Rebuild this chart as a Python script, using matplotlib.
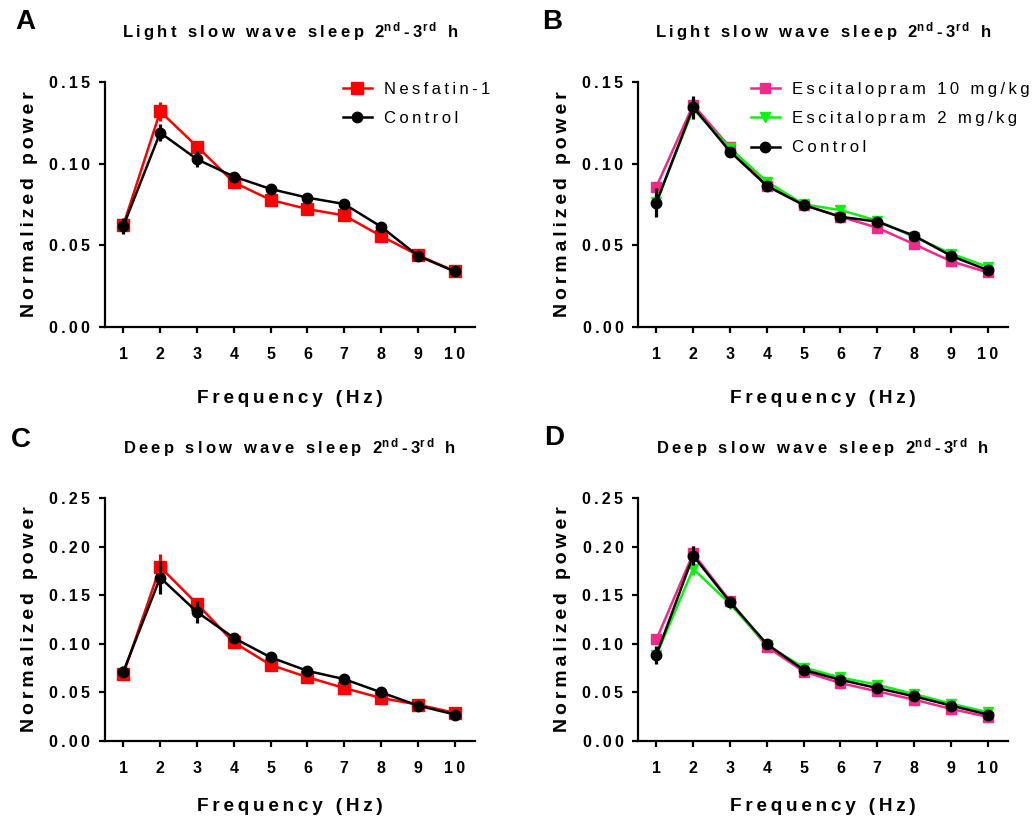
import numpy as np
import matplotlib
matplotlib.use('Agg')
import matplotlib.pyplot as plt

plt.rcParams['font.family'] = ['Liberation Sans', 'DejaVu Sans']
plt.rcParams['mathtext.default'] = 'regular'

freq = [1, 2, 3, 4, 5, 6, 7, 8, 9, 10]

# light slow wave sleep, nesfatin-1 experiment
a_nesf = [0.0624, 0.132, 0.1105, 0.0886, 0.0778, 0.0722, 0.0683, 0.0557, 0.0440, 0.0342]
a_nesf_err = [0.003, 0.006, 0.002, 0.002, 0.002, 0.002, 0.002, 0.002, 0.001, 0.001]
a_ctrl = [0.0618, 0.119, 0.1027, 0.0921, 0.0845, 0.0792, 0.0753, 0.0614, 0.0436, 0.0340]
a_ctrl_err = [0.005, 0.005, 0.005, 0.002, 0.002, 0.002, 0.002, 0.002, 0.002, 0.001]

# light slow wave sleep, escitalopram experiment
b_esc10 = [0.0859, 0.136, 0.1100, 0.0864, 0.0747, 0.0675, 0.0608, 0.0507, 0.0403, 0.0334]
b_esc10_err = [0.003, 0.004, 0.002, 0.002, 0.001, 0.001, 0.002, 0.002, 0.002, 0.001]
b_esc2 = [0.0767, 0.1334, 0.1095, 0.0890, 0.0751, 0.0716, 0.0651, 0.0552, 0.0450, 0.0368]
b_esc2_err = [0.003, 0.004, 0.002, 0.002, 0.002, 0.002, 0.002, 0.001, 0.002, 0.002]
b_ctrl = [0.0761, 0.1346, 0.1074, 0.0864, 0.0747, 0.0675, 0.0645, 0.0559, 0.0436, 0.0348]
b_ctrl_err = [0.009, 0.007, 0.003, 0.002, 0.002, 0.002, 0.002, 0.002, 0.002, 0.002]

# deep slow wave sleep, nesfatin-1 experiment
c_nesf = [0.0687, 0.179, 0.141, 0.1014, 0.0782, 0.0656, 0.0544, 0.0442, 0.0374, 0.0289]
c_nesf_err = [0.006, 0.013, 0.005, 0.003, 0.003, 0.003, 0.003, 0.002, 0.002, 0.002]
c_ctrl = [0.0714, 0.168, 0.1327, 0.1060, 0.0860, 0.0721, 0.0636, 0.0500, 0.0364, 0.0272]
c_ctrl_err = [0.006, 0.017, 0.011, 0.003, 0.003, 0.003, 0.003, 0.002, 0.002, 0.002]

# deep slow wave sleep, escitalopram experiment
d_esc10 = [0.1044, 0.1929, 0.1439, 0.0970, 0.0714, 0.0595, 0.0510, 0.0425, 0.0330, 0.0248]
d_esc10_err = [0.004, 0.008, 0.003, 0.002, 0.002, 0.002, 0.002, 0.002, 0.002, 0.002]
d_esc2 = [0.0884, 0.177, 0.141, 0.0986, 0.0755, 0.0653, 0.0578, 0.0483, 0.0384, 0.0296]
d_esc2_err = [0.008, 0.006, 0.003, 0.002, 0.002, 0.002, 0.002, 0.002, 0.002, 0.002]
d_ctrl = [0.0884, 0.1905, 0.1429, 0.0997, 0.0731, 0.0629, 0.0544, 0.0459, 0.0364, 0.0272]
d_ctrl_err = [0.009, 0.010, 0.003, 0.002, 0.002, 0.002, 0.002, 0.002, 0.002, 0.002]

light_ticks = [0.00, 0.05, 0.10, 0.15]
deep_ticks = [0.00, 0.05, 0.10, 0.15, 0.20, 0.25]

RED = '#FF0000'
PINK = '#F2288A'
GREEN = '#11EE11'

THIN = '\u2009'


def spaced(s):
    # tracked lettering: a thin space between every character
    return THIN.join(s)


def title_text(kind):
    return (spaced(kind + ' slow wave sleep 2') + r'$^{n\,d}$' + THIN + '-' + THIN + '3'
            + r'$^{r\,d}$' + THIN + ' ' + THIN + 'h')


def draw_panel(ax, series, yticks, title, leg_x=None, xpad=20):
    z = 2
    for y, err, color, marker, ms, label in series:
        ax.errorbar(freq, y, yerr=err, fmt='none', ecolor=color, elinewidth=2.3,
                    capsize=0, zorder=z)
        ax.plot(freq, y, color=color, marker=marker, markersize=ms, linewidth=1.8,
                label=spaced(label), zorder=z + 0.5)
        z += 1
    ax.set_xlim(0.5, 10.55)
    ax.set_ylim(0, yticks[-1])
    ax.set_xticks(freq)
    ax.set_xticklabels([spaced(str(f)) for f in freq])
    ax.set_yticks(yticks)
    ax.set_yticklabels([spaced('%.2f' % t) for t in yticks])
    for side in ['top', 'right']:
        ax.spines[side].set_visible(False)
    for side in ['left', 'bottom']:
        ax.spines[side].set_linewidth(1.6)
    ax.tick_params(axis='both', direction='out', length=4.5, width=1.6,
                   labelsize=11.5)
    ax.tick_params(axis='x', pad=10)
    ax.tick_params(axis='y', pad=6)
    for lab in ax.get_xticklabels() + ax.get_yticklabels():
        lab.set_fontweight('bold')
    ax.set_xlabel(spaced('Frequency (Hz)'), fontsize=13.7, fontweight='bold', labelpad=xpad)
    ax.set_ylabel(spaced('Normalized power'), fontsize=14, fontweight='bold', labelpad=8)
    ax.set_title(title, fontsize=12, fontweight='bold', pad=32)
    if leg_x is not None:
        ax.legend(loc='upper left', bbox_to_anchor=(leg_x, 1.0), frameon=False,
                  fontsize=12, handlelength=1.74, handletextpad=0.72,
                  labelspacing=0.85, borderaxespad=0, borderpad=0)


fig = plt.figure(figsize=(10.33, 8.21), dpi=100)
axA = fig.add_axes([0.1016, 0.6017, 0.3582, 0.2984])
axB = fig.add_axes([0.6176, 0.6017, 0.3582, 0.2984])
axC = fig.add_axes([0.1016, 0.0975, 0.3582, 0.2960])
axD = fig.add_axes([0.6176, 0.0975, 0.3582, 0.2960])

draw_panel(axA, [(a_nesf, a_nesf_err, RED, 's', 8.7, 'Nesfatin-1'),
                 (a_ctrl, a_ctrl_err, 'black', 'o', 7.5, 'Control')],
           light_ticks, title_text('Light'), leg_x=0.643)
draw_panel(axB, [(b_esc10, b_esc10_err, PINK, 's', 7.7, 'Escitalopram 10 mg/kg'),
                 (b_esc2, b_esc2_err, GREEN, 'v', 7.7, 'Escitalopram 2 mg/kg'),
                 (b_ctrl, b_ctrl_err, 'black', 'o', 7.5, 'Control')],
           light_ticks, title_text('Light'), leg_x=0.305)
draw_panel(axC, [(c_nesf, c_nesf_err, RED, 's', 8.7, 'Nesfatin-1'),
                 (c_ctrl, c_ctrl_err, 'black', 'o', 7.5, 'Control')],
           deep_ticks, title_text('Deep'), xpad=16)
draw_panel(axD, [(d_esc10, d_esc10_err, PINK, 's', 7.7, 'Escitalopram 10 mg/kg'),
                 (d_esc2, d_esc2_err, GREEN, 'v', 7.7, 'Escitalopram 2 mg/kg'),
                 (d_ctrl, d_ctrl_err, 'black', 'o', 7.5, 'Control')],
           deep_ticks, title_text('Deep'), xpad=16)

# panel letters
for x, y, letter in [(25, 22, 'A'), (552, 22, 'B'), (21, 440, 'C'), (554, 438, 'D')]:
    fig.text(x / 1033, 1 - y / 821, letter, fontsize=20, fontweight='bold',
             ha='center', va='center')

fig.savefig('out.png', dpi=100)
